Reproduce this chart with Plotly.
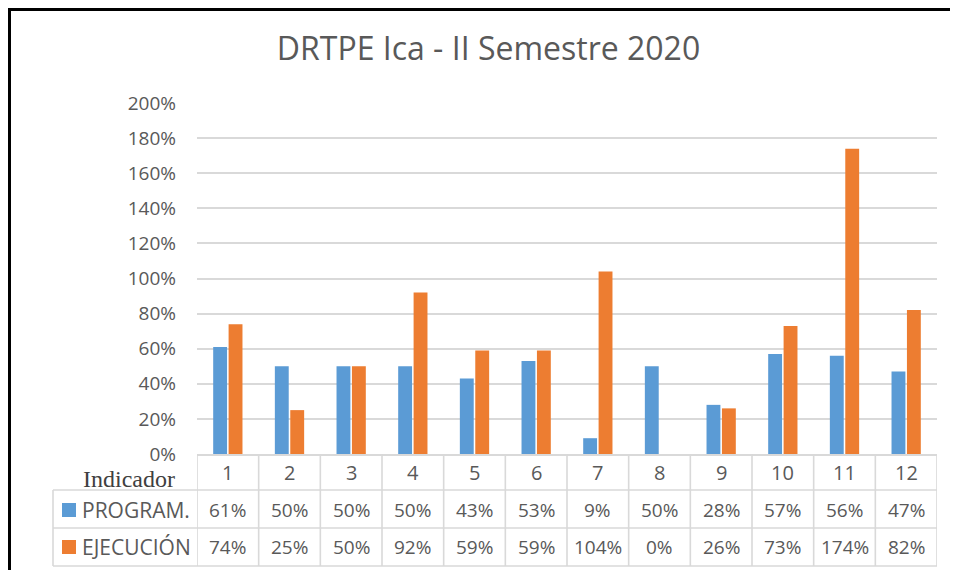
import plotly.graph_objects as go

categories = ["1", "2", "3", "4", "5", "6", "7", "8", "9", "10", "11", "12"]
program = [0.61, 0.50, 0.50, 0.50, 0.43, 0.53, 0.09, 0.50, 0.28, 0.57, 0.56, 0.47]
ejecucion = [0.74, 0.25, 0.50, 0.92, 0.59, 0.59, 1.04, 0.00, 0.26, 0.73, 1.74, 0.82]
series_names = ["PROGRAM.", "EJECUCIÓN"]
colors = ["#5B9BD5", "#ED7D31"]
title_text = "DRTPE Ica - II Semestre 2020"
table_label = "Indicador"

OFF = 8  # page body margin offset of the rendered figure
W, H = 960 - 2 * OFF, 578 - 2 * OFF

def py(p):  # page pixel y -> paper y
    return 1 - (p - OFF) / H

def px(p):  # page pixel x -> paper x
    return (p - OFF) / W

GRID = "#D9D9D9"
TXT = "#595959"
FONT = "'Open Sans', Lato, sans-serif"

fig = go.Figure()
for name, vals, col in zip(series_names, [program, ejecucion], colors):
    fig.add_trace(go.Bar(x=categories, y=vals, name=name, marker_color=col,
                         marker_line_width=0, showlegend=False))

shapes = []
annotations = []

# table horizontal lines
for yy in [490, 528, 566]:
    shapes.append(dict(type="line", xref="paper", yref="paper",
                       x0=px(53), x1=px(937), y0=py(yy), y1=py(yy),
                       line=dict(color=GRID, width=1.6)))
# vertical lines
for i in range(len(categories) + 1):
    shapes.append(dict(type="line", xref="x", yref="paper",
                       x0=i - 0.5, x1=i - 0.5, y0=py(454), y1=py(566),
                       line=dict(color=GRID, width=1.6)))
shapes.append(dict(type="line", xref="paper", yref="paper",
                   x0=px(53), x1=px(53), y0=py(490), y1=py(566),
                   line=dict(color=GRID, width=1.6)))
# legend squares
for yy, col in [(510, colors[0]), (547, colors[1])]:
    shapes.append(dict(type="rect", xref="paper", yref="paper",
                       x0=px(62), x1=px(76), y0=py(yy - 7), y1=py(yy + 7),
                       fillcolor=col, line=dict(width=0)))
# black frame (as far up/left as the figure reaches)
shapes.append(dict(type="line", xref="paper", yref="paper",
                   x0=px(OFF), x1=px(950), y0=py(OFF + 1.5), y1=py(OFF + 1.5),
                   line=dict(color="black", width=3)))
shapes.append(dict(type="line", xref="paper", yref="paper",
                   x0=px(OFF + 1.5), x1=px(OFF + 1.5), y0=py(OFF), y1=py(570),
                   line=dict(color="black", width=3)))

def ann(x, y, text, size, xref="paper", xanchor="center", color=TXT, family=FONT):
    annotations.append(dict(x=x, y=y, xref=xref, yref="paper", text=text,
                            xanchor=xanchor, yanchor="middle", showarrow=False,
                            font=dict(size=size, color=color, family=family)))

# header row & values
for i, c in enumerate(categories):
    ann(i, py(472), c, 20, xref="x")
    ann(i, py(510), f"{round(program[i]*100)}%", 19, xref="x")
    ann(i, py(547), f"{round(ejecucion[i]*100)}%", 19, xref="x")
for yy, nm in [(510, series_names[0]), (547, series_names[1])]:
    ann(px(80), py(yy), nm, 21, xanchor="left")
ann(px(129), py(479), table_label, 24, color="#404040",
    family="'Liberation Serif', 'Times New Roman', serif")

fig.update_layout(
    width=W, height=H, autosize=False,
    margin=dict(l=0, r=0, t=0, b=0, pad=0),
    paper_bgcolor="white", plot_bgcolor="white",
    title=dict(text=title_text, x=px(488.5), xanchor="center", y=py(49), yanchor="middle",
               yref="container", automargin=False,
               font=dict(size=32, color=TXT, family=FONT)),
    bargap=0.5, bargroupgap=0.1,
    xaxis=dict(domain=[px(197), px(937)], range=[-0.5, 11.5], showticklabels=False,
               showgrid=False, showline=True, linecolor=GRID, linewidth=1.6,
               ticks="", fixedrange=True, type="category", automargin=False),
    yaxis=dict(domain=[py(454), py(103)], range=[0, 2.0], dtick=0.2, tickformat=".0%",
               showgrid=True, gridcolor=GRID, gridwidth=1.6, zeroline=False,
               ticks="", ticklabelstandoff=20, automargin=False,
               tickfont=dict(size=19, color=TXT, family=FONT)),
    shapes=shapes, annotations=annotations,
)

fig.write_html("out.html")
